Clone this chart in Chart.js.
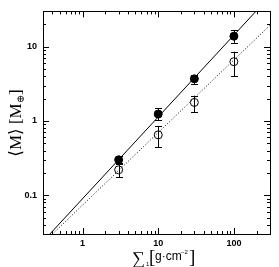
<!DOCTYPE html>
<html>
<head>
<meta charset="utf-8">
<script src="https://cdn.jsdelivr.net/npm/chart.js@4"></script>
<style>
  html, body { margin: 0; padding: 0; background: #fff; }
  .chart-container { position: relative; width: 279px; height: 267px; }
</style>
</head>
<body>
<div class="chart-container"><canvas id="chart" width="279" height="267"></canvas></div>
<script>
// surface density bins
const sigma = [3, 10, 30, 100];

// filled points (with error bars)
const filledM = [0.30, 1.24, 3.7, 13.9];
const filledLo = [0.26, 1.03, 3.16, 11.3];
const filledHi = [0.34, 1.48, 4.15, 16.7];

// open points
const openM = [0.22, 0.65, 1.78, 6.3];
const openLo = [0.175, 0.44, 1.31, 4.0];
const openHi = [0.27, 0.86, 2.2, 8.6];

// fit lines, endpoints
const solidX = [0.37, 195];
const solidY = [0.03, 30];
const dottedX = [0.40, 300];
const dottedY = [0.03, 19.5];

// axis decades
const xTicks = [1, 10, 100];
const yTicks = [0.1, 1, 10];

const toPts = (xs, ys) => xs.map((x, i) => ({ x: x, y: ys[i] }));

const errorBars = {
  id: 'errorBars',
  beforeDatasetsDraw(chart) {
    const { ctx, scales: { x, y } } = chart;
    const sets = [[filledLo, filledHi], [openLo, openHi]];
    ctx.save();
    ctx.strokeStyle = '#000';
    ctx.lineWidth = 1;
    sets.forEach(([lo, hi]) => {
      sigma.forEach((s, i) => {
        const px = Math.round(x.getPixelForValue(s)) + 0.5;
        const y0 = y.getPixelForValue(lo[i]);
        const y1 = y.getPixelForValue(hi[i]);
        ctx.beginPath();
        ctx.moveTo(px, y0); ctx.lineTo(px, y1);
        ctx.moveTo(px - 3.5, Math.round(y0) + 0.5); ctx.lineTo(px + 3.5, Math.round(y0) + 0.5);
        ctx.moveTo(px - 3.5, Math.round(y1) + 0.5); ctx.lineTo(px + 3.5, Math.round(y1) + 0.5);
        ctx.stroke();
      });
    });
    ctx.restore();
  }
};

// inward ticks on all four sides plus frame, and axis titles
const frame = {
  id: 'frame',
  afterDraw(chart) {
    const { ctx, chartArea: a, scales: { x, y } } = chart;
    ctx.save();
    ctx.strokeStyle = '#000';
    ctx.lineWidth = 1;
    ctx.strokeRect(Math.round(a.left) + 0.5, Math.round(a.top) + 0.5,
      Math.round(a.right - a.left), Math.round(a.bottom - a.top));
    ctx.beginPath();
    [x, y].forEach(sc => {
      const lo = Math.floor(Math.log10(sc.min)), hi = Math.ceil(Math.log10(sc.max));
      for (let e = lo; e <= hi; e++) {
        for (let m = 1; m <= 9; m++) {
          const v = m * Math.pow(10, e);
          if (v < sc.min || v > sc.max) continue;
          const len = m === 1 ? 6 : 3;
          const p = Math.round(sc.getPixelForValue(v)) + 0.5;
          if (sc === x) {
            ctx.moveTo(p, a.bottom); ctx.lineTo(p, a.bottom - len);
            ctx.moveTo(p, a.top); ctx.lineTo(p, a.top + len);
          } else {
            ctx.moveTo(a.left, p); ctx.lineTo(a.left + len, p);
            ctx.moveTo(a.right, p); ctx.lineTo(a.right - len, p);
          }
        }
      }
    });
    ctx.stroke();

    ctx.fillStyle = '#000';
    ctx.textBaseline = 'alphabetic';
    // y title: <M> [M_earth]
    const serif = '"Liberation Serif", "DejaVu Serif", serif';
    const parts = [
      { t: '\u27E8M\u27E9 [M', f: '17px ' + serif, dy: 0 },
      { t: '\u2295', f: '10px ' + serif, dy: 3 },
      { t: ']', f: '17px ' + serif, dy: 0 }
    ];
    ctx.save();
    ctx.translate(21, 123);
    ctx.rotate(-Math.PI / 2);
    let w = 0;
    parts.forEach(p => { ctx.font = p.f; w += ctx.measureText(p.t).width; });
    let cx = -w / 2;
    parts.forEach(p => { ctx.font = p.f; ctx.fillText(p.t, cx, p.dy); cx += ctx.measureText(p.t).width; });
    ctx.restore();

    // x title: Sigma_1 [g cm^-2]
    const sans = '"Liberation Sans", Arial, sans-serif';
    const xp = [
      { t: '\u2211', f: '18px ' + serif, x: 132, y: 264 },
      { t: '1', f: '6px ' + sans, x: 146, y: 266 },
      { t: '[', f: '19px ' + serif, x: 149, y: 263 },
      { t: 'g\u00B7cm', f: '12px ' + sans, x: 155, y: 260 },
      { t: '\u22122', f: '6px ' + sans, x: 181, y: 254 },
      { t: ']', f: '19px ' + serif, x: 189, y: 263 }
    ];
    xp.forEach(p => { ctx.font = p.f; ctx.fillText(p.t, p.x, p.y); });
    ctx.restore();
  }
};

const tickFont = { family: '"Liberation Sans", Arial, sans-serif', size: 9, weight: 'bold' };

new Chart(document.getElementById('chart').getContext('2d'), {
  type: 'scatter',
  data: {
    datasets: [
      {
        type: 'line', data: toPts(solidX, solidY),
        borderColor: '#000', borderWidth: 1, pointRadius: 0, fill: false
      },
      {
        type: 'line', data: toPts(dottedX, dottedY),
        borderColor: '#000', borderWidth: 1, borderDash: [1, 2], pointRadius: 0, fill: false
      },
      {
        data: toPts(sigma, filledM),
        pointRadius: 4, backgroundColor: '#000', borderColor: '#000', borderWidth: 1
      },
      {
        data: toPts(sigma, openM),
        pointRadius: 4, backgroundColor: 'rgba(0,0,0,0)', borderColor: '#000', borderWidth: 1
      }
    ]
  },
  options: {
    responsive: false,
    animation: false,
    maintainAspectRatio: false,
    layout: { padding: { left: 0, right: 9, top: 7, bottom: 0 } },
    plugins: { legend: { display: false }, tooltip: { enabled: false } },
    scales: {
      x: {
        type: 'logarithmic', min: 0.3, max: 300,
        afterBuildTicks: sc => { sc.ticks = xTicks.map(v => ({ value: v })); },
        afterFit: sc => { sc.height = 33; },
        grid: { display: false, drawTicks: false },
        border: { display: false },
        ticks: { color: '#000', font: tickFont, padding: 4, maxRotation: 0, callback: v => String(v) }
      },
      y: {
        type: 'logarithmic', min: 0.03, max: 30,
        afterBuildTicks: sc => { sc.ticks = yTicks.map(v => ({ value: v })); },
        afterFit: sc => { sc.width = 43; },
        grid: { display: false, drawTicks: false },
        border: { display: false },
        ticks: { color: '#000', font: tickFont, padding: 6, callback: v => String(v) }
      }
    }
  },
  plugins: [errorBars, frame]
});
</script>
</body>
</html>
